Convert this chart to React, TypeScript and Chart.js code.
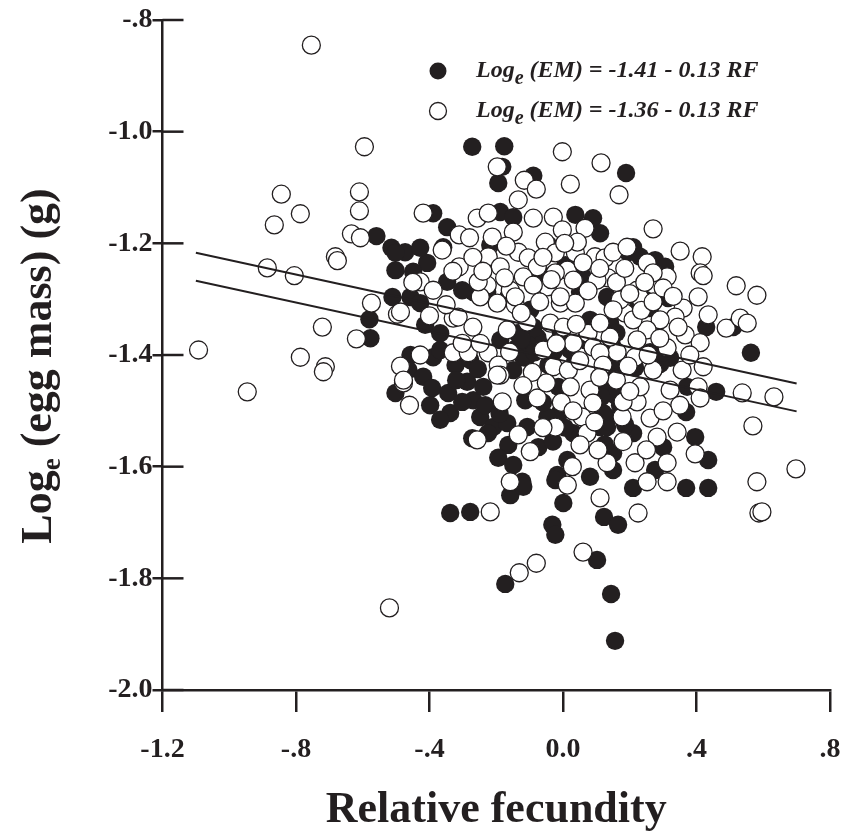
import React, { useEffect, useRef } from "react";
import { Chart, registerables } from "chart.js";

Chart.register(...registerables);

const INK = "#231f20";
const SERIF = "'Liberation Serif', 'Times New Roman', Times, serif";

const xTickValues = [-1.2, -0.8, -0.4, 0, 0.4, 0.8];
const xTickLabels = ["-1.2", "-.8", "-.4", "0.0", ".4", ".8"];
const yTickValues = [-2.0, -1.8, -1.6, -1.4, -1.2, -1.0, -0.8];
const yTickLabels = ["-2.0", "-1.8", "-1.6", "-1.4", "-1.2", "-1.0", "-.8"];

// Filled circles (relative fecundity, loge egg mass)
const filledRF = [
  -0.272, -0.176, -0.182, -0.194, -0.089, 0.189, -0.389, -0.188, -0.149, 0.037,
  0.090, 0.111, -0.347, -0.359, -0.218, -0.407, -0.449, -0.473, -0.347, 0.057,
  -0.248, -0.269, -0.559, -0.514, -0.428, -0.502, -0.502, -0.457, -0.511, -0.580,
  -0.577, -0.457, -0.463, -0.502, -0.428, -0.413, -0.302, -0.368, -0.389, -0.368,
  -0.419, -0.392, -0.398, -0.344, -0.338, -0.287, -0.269, -0.239, -0.248, -0.209,
  -0.272, -0.167, -0.107, -0.164, -0.194, -0.149, -0.074, -0.122, -0.113, -0.149,
  -0.119, -0.137, -0.089, -0.077, -0.044, -0.014, -0.008, -0.047, 0.031, 0.111,
  0.132, 0.013, -0.017, 0.081, 0.150, -0.023, -0.338, -0.278, -0.158, -0.119,
  0.001, 0.123, 0.165, -0.032, -0.023, 0.102, -0.173, 0.144, 0.156, 0.210,
  0.369, 0.435, 0.321, 0.195, 0.210, 0.231, 0.276, 0.306, 0.315, 0.429,
  0.510, 0.563, 0.459, 0.369, 0.396, 0.435, 0.210, 0.300, 0.132, 0.150,
  0.276, 0.141, 0.321, 0.216, 0.372, 0.126, 0.120, -0.227, -0.164, 0.051,
  0.132, -0.068, -0.044, 0.007, -0.068, -0.029, -0.104, 0.147, 0.162, 0.156,
  0.171, 0.246, 0.261, 0.066, 0.037, -0.188, -0.302, 0.291, 0.186, 0.261,
  0.081, -0.008, -0.098, -0.322, -0.278, -0.233, -0.368,
  -0.140, -0.110, -0.085, -0.125, -0.010, 0.020, 0.140, 0.150, 0.160, -0.320,
  -0.255, -0.225, -0.190, -0.060, 0.005, -0.030, 0.115, 0.125, 0.225, 0.300,
];
const filledLogEM = [
  -1.027, -1.026, -1.063, -1.092, -1.079, -1.074, -1.146, -1.144, -1.153, -1.149,
  -1.155, -1.182, -1.171, -1.207, -1.203, -1.235, -1.251, -1.216, -1.269, -1.257,
  -1.278, -1.287, -1.187, -1.208, -1.208, -1.217, -1.248, -1.296, -1.296, -1.336,
  -1.370, -1.400, -1.427, -1.468, -1.307, -1.346, -1.284, -1.361, -1.404, -1.391,
  -1.439, -1.459, -1.490, -1.468, -1.504, -1.448, -1.481, -1.457, -1.511, -1.529,
  -1.549, -1.522, -1.529, -1.561, -1.584, -1.597, -1.565, -1.627, -1.481, -1.427,
  -1.404, -1.361, -1.350, -1.368, -1.418, -1.457, -1.502, -1.511, -1.540, -1.529,
  -1.511, -1.588, -1.615, -1.618, -1.606, -1.624, -1.683, -1.681, -1.651, -1.636,
  -1.665, -1.690, -1.704, -1.704, -1.722, -1.767, -1.810, -1.828, -1.912, -1.638,
  -1.638, -1.638, -1.296, -1.216, -1.207, -1.224, -1.230, -1.242, -1.298, -1.350,
  -1.350, -1.396, -1.466, -1.502, -1.547, -1.588, -1.540, -1.565, -1.529, -1.576,
  -1.606, -1.343, -1.405, -1.423, -1.457, -1.450, -1.504, -1.287, -1.296, -1.287,
  -1.296, -1.253, -1.203, -1.239, -1.382, -1.395, -1.382, -1.382, -1.418, -1.472,
  -1.490, -1.301, -1.316, -1.373, -1.409, -1.373, -1.484, -1.416, -1.525, -1.395,
  -1.337, -1.355, -1.319, -1.418, -1.409, -1.490, -1.516,
  -1.388, -1.405, -1.395, -1.372, -1.372, -1.390, -1.400, -1.440, -1.360, -1.445,
  -1.425, -1.540, -1.505, -1.485, -1.530, -1.555, -1.475, -1.560, -1.305, -1.395,
];

// Open circles
const openRF = [
  -0.754, -0.595, -0.844, -0.610, -0.787, -0.610, -0.865, -0.634, -0.607, -0.419,
  -0.886, -0.805, -0.682, -0.676, -0.574, -0.496, -0.619, -0.721, -1.092, -0.787,
  -0.712, -0.718, -0.946, -0.487, -0.478, -0.460, -0.520, -0.002, 0.114, -0.197,
  -0.116, -0.080, 0.022, -0.134, 0.168, -0.257, -0.224, -0.089, -0.029, -0.002,
  0.066, -0.311, -0.362, -0.311, -0.428, -0.389, -0.212, -0.224, -0.188, -0.149,
  -0.134, -0.104, -0.077, -0.053, -0.023, 0.013, 0.037, 0.043, 0.096, 0.126,
  0.150, 0.135, -0.227, -0.119, -0.047, -0.158, 0.270, 0.351, 0.417, 0.411,
  0.420, 0.519, 0.581, 0.405, 0.192, 0.252, 0.312, 0.270, 0.222, 0.360,
  0.435, 0.489, 0.531, 0.552, 0.537, 0.632, 0.569, 0.698, 0.581, 0.342,
  0.396, 0.312, 0.252, 0.282, 0.261, 0.222, 0.177, 0.132, 0.216, 0.357,
  0.420, 0.405, 0.321, 0.411, 0.270, 0.216, 0.162, 0.231, 0.180, 0.366,
  0.411, 0.312, 0.336, 0.291, 0.252, 0.222, 0.141, 0.186, 0.210, 0.171,
  0.231, 0.312, 0.587, 0.596, 0.225, -0.218, -0.158, 0.013, 0.111, 0.060,
  -0.080, -0.131, -0.487, -0.428, -0.478, -0.329, -0.314, -0.329, -0.284, -0.224,
  -0.194, -0.188, -0.182, -0.257, -0.134, -0.098, -0.077, -0.092, -0.197, -0.167,
  -0.197, -0.248, -0.143, -0.107, -0.059, -0.029, 0.016, 0.022, -0.008, 0.037,
  -0.038, 0.001, 0.031, 0.075, 0.090, 0.111, 0.120, 0.081, 0.090, -0.023,
  0.057, 0.072, 0.051, 0.028, -0.254, -0.143, -0.089, -0.023, 0.031, 0.102,
  -0.008, -0.248, -0.302, 0.111, 0.150,
  -0.270, -0.240, -0.170, -0.175, -0.060, -0.035, 0.005, 0.060, 0.075, 0.110,
  0.160, 0.185, 0.200, 0.235, 0.270, 0.300, 0.330, 0.345, 0.290, 0.255,
  0.195, 0.160, 0.200, 0.110, 0.050, 0.040, -0.020, -0.070, -0.125, -0.160,
  -0.120, -0.050, -0.005, 0.030, 0.095, 0.105, 0.250, 0.180, -0.060, -0.270,
  -0.350, -0.400, -0.450, -0.330, -0.280, 0.245, 0.380, 0.350, 0.300,
];
const openLogEM = [
  -0.845, -1.027, -1.112, -1.108, -1.147, -1.142, -1.167, -1.183, -1.190, -1.146,
  -1.244, -1.258, -1.224, -1.231, -1.307, -1.327, -1.371, -1.350, -1.391, -1.404,
  -1.421, -1.430, -1.466, -1.420, -1.450, -1.490, -1.853, -1.036, -1.056, -1.063,
  -1.087, -1.103, -1.094, -1.122, -1.113, -1.155, -1.146, -1.155, -1.153, -1.176,
  -1.173, -1.185, -1.212, -1.242, -1.269, -1.284, -1.189, -1.224, -1.242, -1.180,
  -1.216, -1.226, -1.242, -1.198, -1.217, -1.248, -1.217, -1.198, -1.224, -1.226,
  -1.216, -1.262, -1.275, -1.260, -1.278, -1.284, -1.174, -1.214, -1.224, -1.253,
  -1.258, -1.276, -1.293, -1.296, -1.207, -1.235, -1.260, -1.253, -1.284, -1.316,
  -1.328, -1.352, -1.334, -1.343, -1.468, -1.475, -1.527, -1.604, -1.627, -1.538,
  -1.577, -1.593, -1.627, -1.547, -1.513, -1.484, -1.511, -1.593, -1.593, -1.427,
  -1.421, -1.457, -1.463, -1.477, -1.427, -1.404, -1.395, -1.457, -1.484, -1.364,
  -1.378, -1.387, -1.332, -1.337, -1.355, -1.373, -1.368, -1.325, -1.337, -1.301,
  -1.298, -1.627, -1.683, -1.681, -1.683, -1.681, -1.627, -1.633, -1.656, -1.753,
  -1.773, -1.790, -1.323, -1.400, -1.445, -1.334, -1.332, -1.396, -1.396, -1.396,
  -1.418, -1.436, -1.484, -1.552, -1.543, -1.573, -1.477, -1.431, -1.436, -1.355,
  -1.307, -1.296, -1.310, -1.341, -1.391, -1.421, -1.427, -1.457, -1.307, -1.307,
  -1.343, -1.350, -1.379, -1.361, -1.386, -1.396, -1.418, -1.463, -1.486, -1.529,
  -1.511, -1.540, -1.561, -1.600, -1.269, -1.296, -1.275, -1.253, -1.266, -1.266,
  -1.296, -1.379, -1.379, -1.343, -1.319,
  -1.225, -1.250, -1.205, -1.262, -1.225, -1.265, -1.200, -1.235, -1.285, -1.245,
  -1.270, -1.245, -1.290, -1.320, -1.305, -1.280, -1.295, -1.350, -1.370, -1.400,
  -1.420, -1.445, -1.465, -1.440, -1.410, -1.345, -1.380, -1.305, -1.325, -1.395,
  -1.455, -1.450, -1.485, -1.500, -1.520, -1.570, -1.570, -1.555, -1.530, -1.350,
  -1.310, -1.330, -1.270, -1.250, -1.190, -1.270, -1.400, -1.490, -1.500,
];

// Regression lines: Loge(EM) = a + b * RF
const fitRF = [-1.1, 0.7];
const filledIntercept = -1.41;
const openIntercept = -1.36;
const fitSlope = -0.13;

const legendRows = [
  { filled: true, pre: "Log", sub: "e", post: " (EM) = -1.41 - 0.13 RF" },
  { filled: false, pre: "Log", sub: "e", post: " (EM) = -1.36 - 0.13 RF" },
];

const decorPlugin = {
  id: "decor",
  afterDraw(chart: any) {
    const { ctx, chartArea, scales } = chart;
    const ys = scales.y;
    ctx.save();
    // inward y ticks
    ctx.strokeStyle = INK;
    ctx.lineWidth = 2.5;
    for (const v of yTickValues) {
      const py = ys.getPixelForValue(v);
      ctx.beginPath();
      ctx.moveTo(chartArea.left, py);
      ctx.lineTo(chartArea.left + 21, py);
      ctx.stroke();
    }

    // y-axis title with subscript
    const mainFont = `bold 44px ${SERIF}`;
    const subFont = `bold 27px ${SERIF}`;
    ctx.fillStyle = INK;
    ctx.textBaseline = "alphabetic";
    ctx.font = mainFont;
    const w1 = ctx.measureText("Log").width;
    const w3 = ctx.measureText(" (egg mass) (g)").width;
    ctx.font = subFont;
    const w2 = ctx.measureText("e").width;
    const total = w1 + w2 + w3;
    const cy = (chartArea.top + chartArea.bottom) / 2 + 11;
    ctx.translate(51, cy);
    ctx.rotate(-Math.PI / 2);
    let x = -total / 2;
    ctx.textAlign = "left";
    ctx.font = mainFont;
    ctx.fillText("Log", x, 0);
    x += w1;
    ctx.font = subFont;
    ctx.fillText("e", x, 9);
    x += w2;
    ctx.font = mainFont;
    ctx.fillText(" (egg mass) (g)", x, 0);
    ctx.setTransform(1, 0, 0, 1, 0, 0);

    // legend
    const lf = `italic bold 24px ${SERIF}`;
    const lsf = `italic bold 20px ${SERIF}`;
    legendRows.forEach((row, i) => {
      const my = 71 + i * 40;
      ctx.beginPath();
      ctx.arc(438, my, 8.5, 0, Math.PI * 2);
      if (row.filled) {
        ctx.fillStyle = INK;
        ctx.fill();
      } else {
        ctx.fillStyle = "#fff";
        ctx.fill();
        ctx.lineWidth = 1.3;
        ctx.strokeStyle = INK;
        ctx.stroke();
      }
      ctx.fillStyle = INK;
      const by = my + 6;
      let tx = 476;
      ctx.font = lf;
      ctx.fillText(row.pre, tx, by);
      tx += ctx.measureText(row.pre).width;
      ctx.font = lsf;
      ctx.fillText(row.sub, tx, by + 7);
      tx += ctx.measureText(row.sub).width;
      ctx.font = lf;
      ctx.fillText(row.post, tx, by);
    });
    ctx.restore();
  },
};

export default function App() {
  const ref = useRef<HTMLCanvasElement>(null);
  useEffect(() => {
    const canvas = ref.current;
    if (!canvas) return;
    const chart = new Chart(canvas, {
      type: "scatter",
      data: {
        datasets: [
          {
            label: "fit open",
            data: fitRF.map((x) => ({ x, y: openIntercept + fitSlope * x })),
            showLine: true,
            borderColor: INK,
            borderWidth: 2,
            pointRadius: 0,
            order: 0,
          },
          {
            label: "fit filled",
            data: fitRF.map((x) => ({ x, y: filledIntercept + fitSlope * x })),
            showLine: true,
            borderColor: INK,
            borderWidth: 2,
            pointRadius: 0,
            order: 0,
          },
          {
            label: "open",
            data: openRF.map((x, i) => ({ x, y: openLogEM[i] })),
            pointRadius: 9,
            pointBackgroundColor: "#ffffff",
            pointBorderColor: INK,
            pointBorderWidth: 1.3,
            order: 1,
          },
          {
            label: "filled",
            data: filledRF.map((x, i) => ({ x, y: filledLogEM[i] })),
            pointRadius: 9.2,
            pointBackgroundColor: INK,
            pointBorderColor: INK,
            pointBorderWidth: 0,
            order: 2,
          },
        ],
      },
      options: {
        responsive: false,
        animation: false,
        devicePixelRatio: 1,
        layout: { padding: { left: 0, right: 17, top: 20, bottom: 0 } },
        plugins: { legend: { display: false }, tooltip: { enabled: false } },
        scales: {
          x: {
            type: "linear",
            min: -1.2,
            max: 0.8,
            afterBuildTicks: (s: any) => {
              s.ticks = xTickValues.map((v) => ({ value: v }));
            },
            afterFit: (s: any) => {
              s.height = 149;
              s.paddingLeft = 0;
              s.paddingRight = 0;
            },
            ticks: {
              callback: (_v: any, i: number) => xTickLabels[i],
              font: { family: SERIF, size: 28, weight: "bold" },
              color: INK,
              padding: 21,
              maxRotation: 0,
              autoSkip: false,
            },
            grid: {
              drawOnChartArea: false,
              drawTicks: true,
              tickLength: 22,
              color: INK,
              lineWidth: 2.5,
            },
            border: { display: true, color: INK, width: 2.5 },
            title: {
              display: true,
              text: "Relative fecundity",
              font: { family: SERIF, size: 44, weight: "bold" },
              color: INK,
              padding: { top: 0, bottom: 2 },
            },
          },
          y: {
            type: "linear",
            min: -2.0,
            max: -0.8,
            afterBuildTicks: (s: any) => {
              s.ticks = yTickValues.map((v) => ({ value: v }));
            },
            afterFit: (s: any) => {
              s.width = 162.5;
            },
            ticks: {
              callback: (_v: any, i: number) => yTickLabels[i],
              font: { family: SERIF, size: 28, weight: "bold" },
              color: INK,
              padding: 0,
              autoSkip: false,
            },
            grid: {
              drawOnChartArea: false,
              drawTicks: true,
              tickLength: 10,
              color: INK,
              lineWidth: 2.5,
            },
            border: { display: true, color: INK, width: 2.5 },
          },
        },
      },
      plugins: [decorPlugin],
    } as any);
    return () => chart.destroy();
  }, []);
  return (
    <div style={{ position: "absolute", left: 0, top: 0, width: 847, height: 839, background: "#fff" }}>
      <canvas ref={ref} width={847} height={839} style={{ display: "block" }} />
    </div>
  );
}
